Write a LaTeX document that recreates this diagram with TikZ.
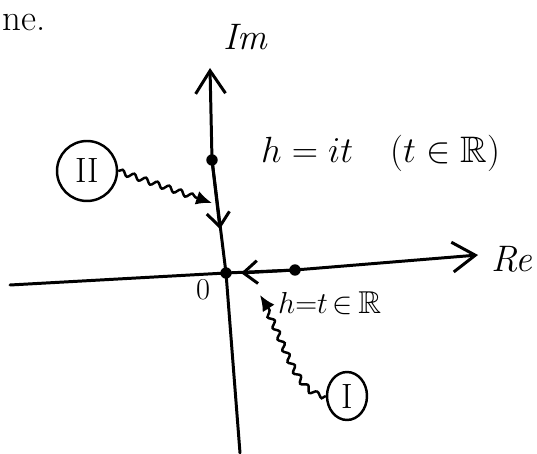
\documentclass[tikz,border=0pt]{standalone}
\usepackage{amssymb}
\usetikzlibrary{arrows.meta,decorations.pathmorphing,shapes.geometric}
\tikzset{
    dotpt/.style={circle,fill,inner sep=0pt,minimum size=6.5pt},
    axis/.style={line width=1.7pt,line cap=round,line join=round,-{Straight Barb[length=13pt,width=17pt,line width=1.7pt]}},
    midtip/.style={line width=1.7pt,-{Straight Barb[length=8pt,width=13pt,line width=1.7pt]}},
    wave/.style={line width=1.4pt,decorate,
        decoration={snake,amplitude=1.5pt,segment length=7pt,post length=9pt},
        -{Latex[length=9pt,width=8pt]}},
    roman/.style={draw,line width=1.4pt,inner sep=1pt,font=\fontsize{20}{24}\selectfont},
    big/.style={font=\fontsize{21}{25}\selectfont},
    small/.style={font=\fontsize{18}{21}\selectfont},
}
\begin{document}
\begin{tikzpicture}[x=0.02cm,y=0.02cm]
    \useasboundingbox (0,0) rectangle (537,453);

    % axes
    \coordinate (vbot) at (240,0);
    \coordinate (vtop) at (210,385);
    \coordinate (hleft) at (10,168);
    \coordinate (hright) at (478,198);
    \node[dotpt] (orig) at (226,180) {};
    \node[dotpt] (pit) at (212,293) {};
    \node[dotpt] (preal) at (295,183) {};
    \draw[axis] (vbot) -- (orig.center) -- (pit.center) -- (vtop);
    \draw[axis] (hleft) -- (orig.center) -- (preal.center) -- (hright);

    % directions towards 0
    \coordinate (vtip) at (220,224);
    \coordinate (htip) at (241,180);
    \draw[midtip] (pit.center) -- (vtip);
    \draw[midtip] (preal.center) -- (htip);

    % labels
    \node[big,anchor=west] (plane) at (-4,431) {ne.};
    \node[big] (im) at (246,416) {\textit{Im}};
    \node[big] (re) at (512,194) {\textit{Re}};
    \node[small] (zero) at (203,163) {$0$};
    \node[big,anchor=west] (limag) at (255,300) {$h=it\quad(t\in\mathbb{R})$};
    \node[small,anchor=west] (lreal) at (272,150) {$h{=}t\,{\in}\,\mathbb{R}$};

    % paths I and II
    \node[roman,circle,minimum size=1.2cm] (two) at (87,282) {II};
    \node[roman,ellipse,minimum width=0.8cm,minimum height=0.96cm] (one) at (347,57) {I};
    \coordinate (wtwo) at (212,250);
    \coordinate (wone) at (260,158);
    \draw[wave] (two.east) -- (wtwo);
    \draw[wave] (one.west) .. controls (295,60) and (285,125) .. (wone);
\end{tikzpicture}
\end{document}
